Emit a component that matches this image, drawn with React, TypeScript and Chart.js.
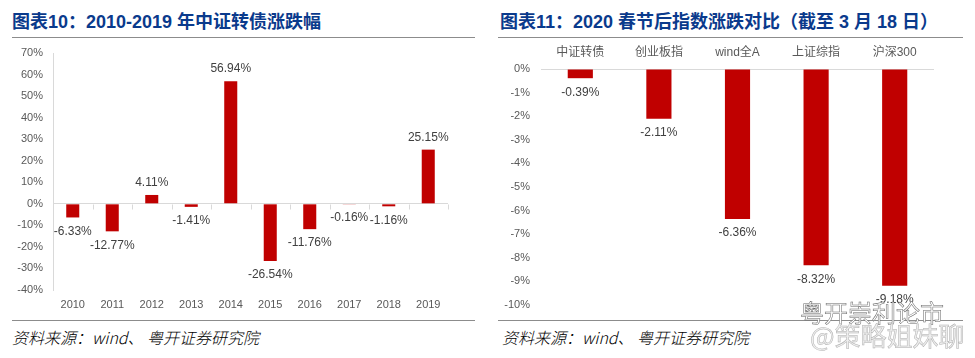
import React, { useEffect, useRef } from "react";
import { Chart, registerables } from "chart.js";
Chart.register(...registerables);

// ---- data ----
const yearCategories = ["2010", "2011", "2012", "2013", "2014", "2015", "2016", "2017", "2018", "2019"];
const yearValues = [-6.33, -12.77, 4.11, -1.41, 56.94, -26.54, -11.76, -0.16, -1.16, 25.15];
const leftYMin = -40;
const leftYMax = 70;
const leftYStep = 10;

const indexCategories = ["中证转债", "创业板指", "wind全A", "上证综指", "沪深300"];
const indexValues = [-0.39, -2.11, -6.36, -8.32, -9.18];
const rightYMin = -10;
const rightYMax = 0;
const rightYStep = 1;

const leftTitle = "图表10：2010-2019 年中证转债涨跌幅";
const rightTitle = "图表11：2020 春节后指数涨跌对比（截至 3 月 18 日）";
const sourceText = "资料来源：wind、 粤开证券研究院";

const BAR = "#c00000";
const AXIS_GRAY = "#d9d9d9";
const TICK_TEXT = "#595959";
const LABEL_TEXT = "#404040";
const TITLE_BLUE = "#0a3a8c";
const FONT = "'Liberation Sans', 'Noto Sans CJK SC', sans-serif";

const labelPlugin = {
  id: "barLabels",
  afterDatasetsDraw(chart: any) {
    const ctx = chart.ctx;
    const meta = chart.getDatasetMeta(0);
    const data = chart.data.datasets[0].data as number[];
    ctx.save();
    ctx.font = "12px " + FONT;
    ctx.fillStyle = LABEL_TEXT;
    ctx.textAlign = "center";
    ctx.textBaseline = "middle";
    meta.data.forEach((bar: any, i: number) => {
      const v = data[i];
      const y = v >= 0 ? bar.y - 12 : bar.y + 14;
      ctx.fillText(v.toFixed(2) + "%", bar.x, y);
    });
    ctx.restore();
  },
};

const zeroTickPlugin = {
  id: "zeroTicks",
  afterDraw(chart: any) {
    const xs = chart.scales.x;
    const ys = chart.scales.y;
    const y0 = Math.round(ys.getPixelForValue(0)) + 0.5;
    const ctx = chart.ctx;
    ctx.save();
    ctx.strokeStyle = AXIS_GRAY;
    ctx.lineWidth = 1;
    const n = chart.data.labels.length;
    for (let i = 0; i <= n; i++) {
      const px = Math.round(xs.getPixelForValue(i - 0.5)) + 0.5;
      ctx.beginPath();
      ctx.moveTo(px, y0);
      ctx.lineTo(px, y0 + 5);
      ctx.stroke();
    }
    ctx.restore();
  },
};

function LeftChart() {
  const ref = useRef<HTMLCanvasElement>(null);
  useEffect(() => {
    const chart = new Chart(ref.current!, {
      type: "bar",
      data: {
        labels: yearCategories,
        datasets: [
          {
            data: yearValues,
            backgroundColor: BAR,
            categoryPercentage: 1,
            barPercentage: 0.33,
          },
        ],
      },
      options: {
        animation: false,
        responsive: false,
        layout: { padding: { left: 0, right: 32, top: 13, bottom: 0 } },
        plugins: { legend: { display: false }, tooltip: { enabled: false } },
        scales: {
          x: {
            offset: true,
            grid: { display: false, drawTicks: false },
            border: { display: false },
            ticks: { color: TICK_TEXT, font: { size: 11, family: FONT }, padding: 8, maxRotation: 0 },
            afterFit: (s: any) => {
              s.height = 25;
              s.paddingLeft = 0;
              s.paddingRight = 0;
            },
          },
          y: {
            min: leftYMin,
            max: leftYMax,
            ticks: {
              stepSize: leftYStep,
              color: TICK_TEXT,
              font: { size: 11, family: FONT },
              padding: 10,
              callback: (v: any) => v + "%",
            },
            grid: {
              drawTicks: false,
              color: (c: any) => (c.tick && c.tick.value === 0 ? AXIS_GRAY : "rgba(0,0,0,0)"),
            },
            border: { display: true, color: AXIS_GRAY },
            afterFit: (s: any) => {
              s.width = 53;
              s.paddingTop = 0;
              s.paddingBottom = 0;
            },
          },
        },
      },
      plugins: [labelPlugin, zeroTickPlugin],
    });
    return () => chart.destroy();
  }, []);
  return <canvas ref={ref} width={480} height={275} style={{ position: "absolute", left: 0, top: 40 }} />;
}

function RightChart() {
  const ref = useRef<HTMLCanvasElement>(null);
  useEffect(() => {
    const chart = new Chart(ref.current!, {
      type: "bar",
      data: {
        labels: indexCategories,
        datasets: [
          {
            data: indexValues,
            backgroundColor: BAR,
            categoryPercentage: 1,
            barPercentage: 0.32,
          },
        ],
      },
      options: {
        animation: false,
        responsive: false,
        layout: { padding: { left: 0, right: 41, top: 0, bottom: 13 } },
        plugins: { legend: { display: false }, tooltip: { enabled: false } },
        scales: {
          x: {
            position: "top",
            offset: true,
            grid: { display: false, drawTicks: false },
            border: { display: false },
            ticks: { color: TICK_TEXT, font: { size: 12, family: FONT }, padding: 9, maxRotation: 0 },
            afterFit: (s: any) => {
              s.height = 29;
              s.paddingLeft = 0;
              s.paddingRight = 0;
            },
          },
          y: {
            min: rightYMin,
            max: rightYMax,
            ticks: {
              stepSize: rightYStep,
              color: TICK_TEXT,
              font: { size: 11, family: FONT },
              padding: 11,
              callback: (v: any) => v + "%",
            },
            grid: {
              drawTicks: false,
              color: (c: any) => (c.tick && c.tick.value === 0 ? AXIS_GRAY : "rgba(0,0,0,0)"),
            },
            border: { display: false },
            afterFit: (s: any) => {
              s.width = 51;
              s.paddingTop = 0;
              s.paddingBottom = 0;
            },
          },
        },
      },
      plugins: [labelPlugin],
    });
    return () => chart.destroy();
  }, []);
  return <canvas ref={ref} width={485} height={278} style={{ position: "absolute", left: 490, top: 40 }} />;
}

const titleStyle: React.CSSProperties = {
  position: "absolute",
  top: 12,
  fontFamily: FONT,
  fontWeight: "bold",
  fontSize: 18,
  lineHeight: "20px",
  color: TITLE_BLUE,
  whiteSpace: "nowrap",
};

const sourceStyle: React.CSSProperties = {
  position: "absolute",
  top: 328,
  fontFamily: "'Noto Sans CJK SC', 'Liberation Sans', sans-serif",
  fontStyle: "italic",
  fontWeight: 300,
  fontSize: 16,
  lineHeight: "18px",
  color: "#000",
  whiteSpace: "nowrap",
};

function Rule({ left, top, width }: { left: number; top: number; width: number }) {
  return <div style={{ position: "absolute", left, top, width, height: 1, background: "#8c8c8c" }} />;
}

export default function App() {
  return (
    <div
      style={{
        position: "absolute",
        left: 0,
        top: 0,
        width: 975,
        height: 358,
        background: "#fff",
        overflow: "hidden",
      }}
    >
      <div style={{ ...titleStyle, left: 12 }}>{leftTitle}</div>
      <div style={{ ...titleStyle, left: 500 }}>{rightTitle}</div>
      <Rule left={12} top={37} width={463} />
      <Rule left={498} top={37} width={465} />
      <LeftChart />
      <RightChart />
      <Rule left={12} top={320} width={463} />
      <Rule left={498} top={320} width={465} />
      <div style={{ ...sourceStyle, left: 12 }}>{sourceText}</div>
      <div style={{ ...sourceStyle, left: 502 }}>{sourceText}</div>
      <div
        style={{
          position: "absolute",
          left: 800,
          top: 299,
          fontFamily: "'Noto Sans CJK SC', sans-serif",
          fontSize: 24,
          lineHeight: "26px",
          color: "#fff",
          WebkitTextStroke: "0.5px #666",
          whiteSpace: "nowrap",
        }}
      >
        粤开崇利论市
      </div>
      <div
        style={{
          position: "absolute",
          left: 810,
          top: 321,
          fontFamily: "'Noto Sans CJK SC', sans-serif",
          fontSize: 26,
          lineHeight: "28px",
          color: "#eeeeee",
          WebkitTextStroke: "0.5px #b0b0b0",
          whiteSpace: "nowrap",
        }}
      >
        @策略姐妹聊
      </div>
    </div>
  );
}
